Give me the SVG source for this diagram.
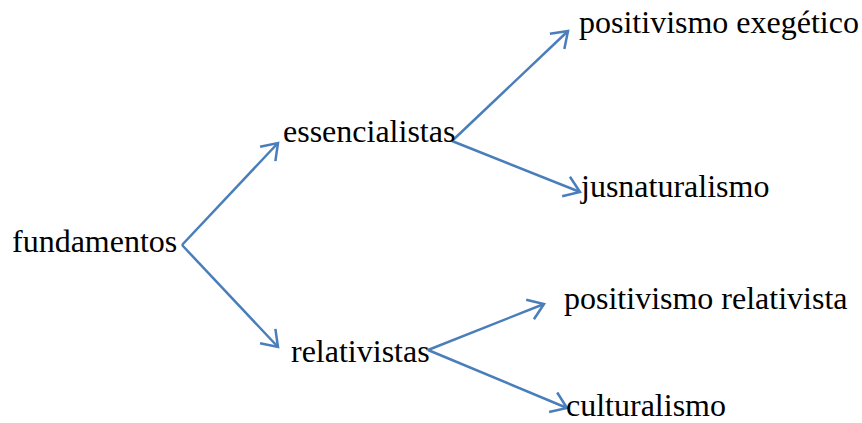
<svg xmlns="http://www.w3.org/2000/svg" width="862" height="423" viewBox="0 0 862 423">
  <style>
    .lbl { font-family: "Liberation Serif", "Times New Roman", serif; font-size: 32px; fill: #000; }
    .edge { stroke: #4A7EBB; stroke-width: 2.5; fill: none; marker-end: url(#open); }
  </style>
  <defs>
    <!-- open chevron arrowhead shared by all connectors -->
    <marker id="open" markerUnits="userSpaceOnUse" markerWidth="32" markerHeight="32" viewBox="-20 -16 32 32" refX="0" refY="0" orient="auto">
      <path d="M-15,-10.5 L0,0 L-15,10.5" fill="none" stroke="#4A7EBB" stroke-width="2.5" stroke-linejoin="miter"/>
    </marker>
  </defs>
  <rect width="862" height="423" fill="#fff"/>

  <g id="connectors">
    <line class="edge" x1="182" y1="245" x2="278" y2="143"/>
    <line class="edge" x1="182" y1="245" x2="278" y2="347"/>
    <line class="edge" x1="452" y1="141" x2="568" y2="31"/>
    <line class="edge" x1="452" y1="141" x2="580" y2="192"/>
    <line class="edge" x1="428" y1="350" x2="544" y2="304"/>
    <line class="edge" x1="428" y1="350" x2="567" y2="408"/>
  </g>

  <g id="fundamentos"><text class="lbl" x="12" y="252">fundamentos</text></g>
  <g id="essencialistas"><text class="lbl" x="283" y="142">essencialistas</text></g>
  <g id="relativistas"><text class="lbl" x="291" y="362">relativistas</text></g>
  <g id="positivismo-exegetico"><text class="lbl" x="579" y="33">positivismo exegético</text></g>
  <g id="jusnaturalismo"><text class="lbl" x="581" y="197">jusnaturalismo</text></g>
  <g id="positivismo-relativista"><text class="lbl" x="564" y="309">positivismo relativista</text></g>
  <g id="culturalismo"><text class="lbl" x="566" y="416">culturalismo</text></g>
</svg>
